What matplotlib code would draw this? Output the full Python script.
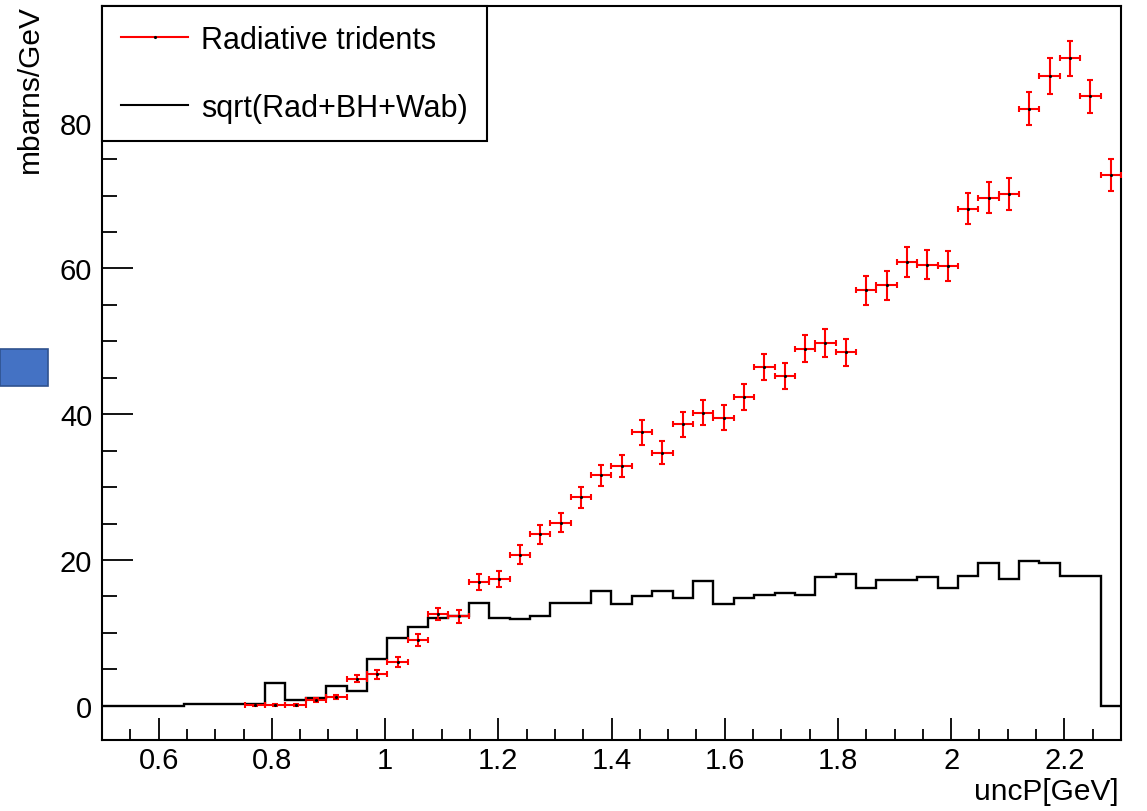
import numpy as np
import matplotlib
matplotlib.use("Agg")
import matplotlib.pyplot as plt
from matplotlib.lines import Line2D
from matplotlib.patches import Rectangle
from matplotlib.ticker import MultipleLocator, FuncFormatter

plt.rcParams['font.family'] = ['Liberation Sans', 'DejaVu Sans']

# histogram binning: 50 bins from 0.5 to 2.3 GeV
x_lo, x_hi, n_bins = 0.5, 2.3, 50

# sqrt(Rad+BH+Wab), one value per bin
bkg_vals = [0, 0, 0, 0, 0.2, 0.2, 0.2, 0.2, 3.1, 0.75,
            1.05, 2.7, 2.0, 6.45, 9.3, 10.8, 12.1, 12.3, 14.1, 12.1,
            11.9, 12.3, 14.1, 14.1, 15.8, 13.9, 15.1, 15.7, 14.8, 17.1,
            13.9, 14.8, 15.2, 15.5, 15.2, 17.6, 18.1, 16.1, 17.2, 17.2,
            17.6, 16.1, 17.8, 19.6, 17.4, 19.8, 19.6, 17.8, 17.8, 0]

# radiative tridents, bins 7..49
rad_first_bin = 7
rad_vals = [0.05, 0.1, 0.1, 0.8, 1.2, 3.7, 4.3, 6.0, 9.0, 12.6,
            12.3, 17.0, 17.4, 20.7, 23.5, 25.1, 28.6, 31.6, 32.9, 37.5,
            34.7, 38.6, 40.2, 39.5, 42.4, 46.5, 45.2, 49.0, 49.8, 48.5,
            57.0, 57.7, 60.9, 60.5, 60.3, 68.2, 69.7, 70.2, 81.9, 86.4,
            88.8, 83.6, 72.8]
rad_errs = [0.1, 0.1, 0.1, 0.25, 0.3, 0.5, 0.57, 0.64, 0.85, 0.85,
            0.9, 1.07, 1.07, 1.3, 1.28, 1.33, 1.46, 1.46, 1.53, 1.67,
            1.56, 1.69, 1.72, 1.72, 1.78, 1.8, 1.8, 1.88, 1.9, 1.88,
            2.0, 1.97, 2.08, 2.0, 2.05, 2.13, 2.15, 2.15, 2.29, 2.42,
            2.42, 2.29, 2.15]

edges = np.linspace(x_lo, x_hi, n_bins + 1)
centers = 0.5 * (edges[:-1] + edges[1:])
half_w = 0.5 * (edges[1] - edges[0])
rad_x = centers[rad_first_bin:rad_first_bin + len(rad_vals)]

fig = plt.figure(figsize=(11.47, 8.12), dpi=100)
ax = fig.add_axes([102 / 1147, 71 / 812, 1019 / 1147, 734 / 812])

ax.stairs(bkg_vals, edges, color='black', lw=1.7, zorder=2)
ax.errorbar(rad_x, rad_vals, yerr=rad_errs, xerr=half_w, fmt='.', color='red',
            ecolor='red', elinewidth=1.5, capsize=2.5, capthick=1.5,
            mfc='black', mec='black', ms=2.5, zorder=3)

ax.set_xlim(x_lo, x_hi)
ax.set_ylim(-4.7, 96)

ax.xaxis.set_major_locator(MultipleLocator(0.2))
ax.xaxis.set_minor_locator(MultipleLocator(0.05))
ax.yaxis.set_major_locator(MultipleLocator(20))
ax.yaxis.set_minor_locator(MultipleLocator(5))
ax.xaxis.set_major_formatter(FuncFormatter(lambda v, p: '%g' % round(v, 3)))
ax.yaxis.set_major_formatter(FuncFormatter(lambda v, p: '%g' % v))

ax.tick_params(axis='x', which='major', direction='in', length=16, width=1.3, labelsize=21, pad=4)
ax.tick_params(axis='x', which='minor', direction='in', length=8, width=1.3)
ax.tick_params(axis='y', which='major', direction='in', length=22, width=1.3, labelsize=21, pad=7)
ax.tick_params(axis='y', which='minor', direction='in', length=11, width=1.3)
ax.tick_params(top=False, right=False, which='both')

for s in ax.spines.values():
    s.set_linewidth(1.5)

ax.set_xlabel('uncP[GeV]', fontsize=21.5, loc='right')
ax.xaxis.set_label_coords(0.998, -0.05)
ax.set_ylabel('mbarns/GeV', fontsize=21.5, loc='top')
ax.yaxis.set_label_coords(-0.057, 1.003)

handles = [Line2D([], [], color='red', lw=1.5, marker='.', mfc='black', mec='black', ms=2.5),
           Line2D([], [], color='black', lw=1.5)]
leg = ax.legend(handles, ['Radiative tridents', 'sqrt(Rad+BH+Wab)'],
                loc='upper left', bbox_to_anchor=(0, 1), borderaxespad=0,
                fancybox=False, edgecolor='black', framealpha=1, fontsize=22,
                handlelength=2.2, handletextpad=0.42, labelspacing=1.23, borderpad=0.62)
leg.get_frame().set_linewidth(1.5)
leg.set_zorder(5)

# blue box left of the frame
fig.patches.append(Rectangle((0, (812 - 387) / 812), 48 / 1147, 37 / 812,
                             transform=fig.transFigure, fc='#4472C4', ec='#2F528F', lw=1.2))

fig.savefig('out.png', dpi=100)
